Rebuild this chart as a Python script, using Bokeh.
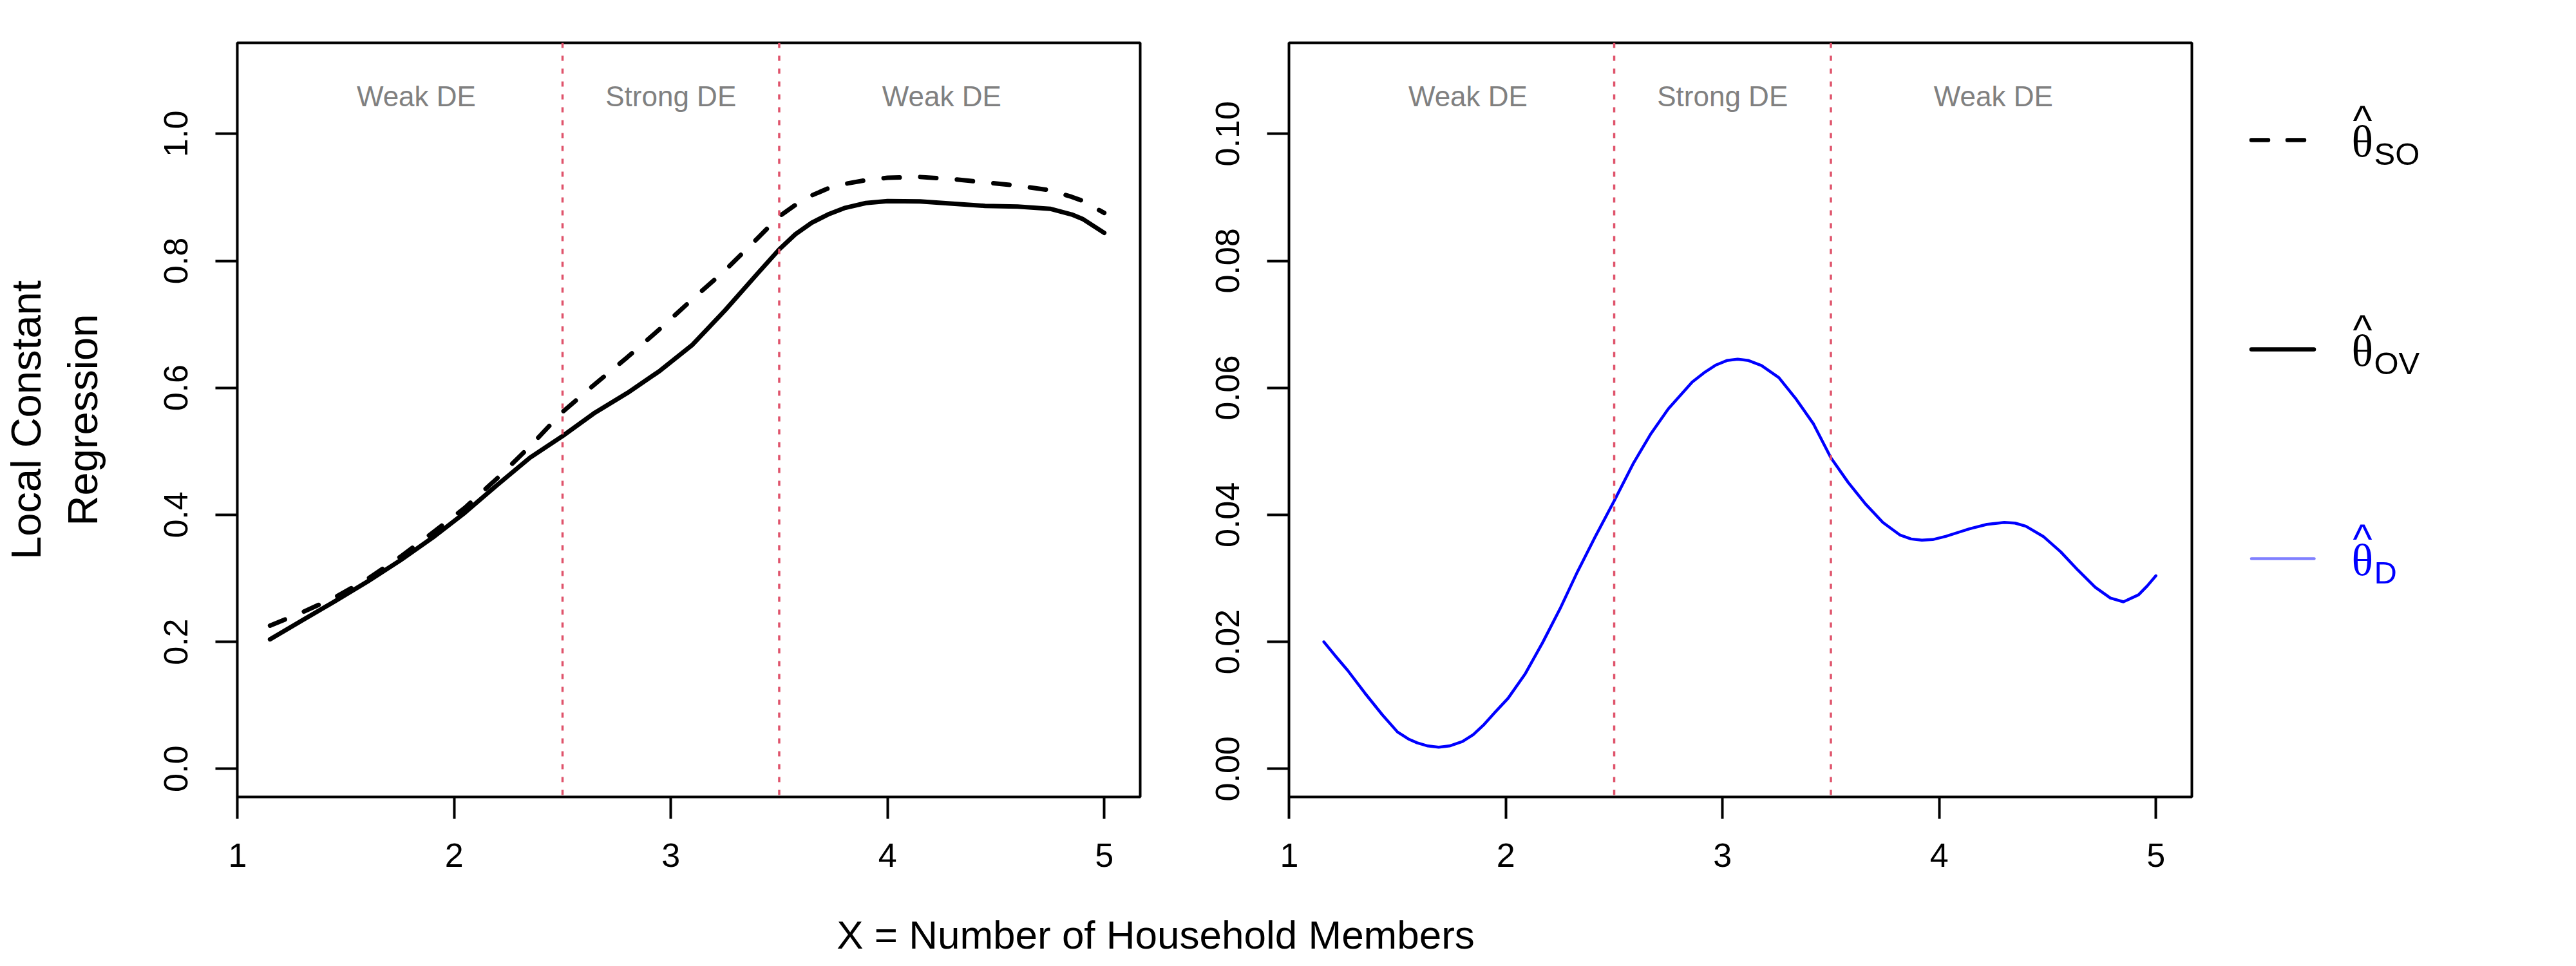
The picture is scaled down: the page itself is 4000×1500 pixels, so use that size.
from bokeh.plotting import figure
from bokeh.layouts import row, column
from bokeh.models import Range1d, FixedTicker, PrintfTickFormatter, Span
from bokeh.embed import file_html
from bokeh.resources import INLINE
from bokeh.core.properties import value

# ---------------- data ----------------
x_lc = [1.15, 1.3, 1.45, 1.6, 1.75, 1.9, 2.05, 2.2, 2.35, 2.5, 2.65, 2.8, 2.95, 3.1,
        3.25, 3.4, 3.5, 3.575, 3.65, 3.725, 3.8, 3.9, 4.0, 4.15, 4.3, 4.45, 4.6, 4.75,
        4.85, 4.9, 5.0]
theta_so = [0.2255, 0.2466, 0.270, 0.299, 0.3335, 0.3717, 0.4113, 0.458, 0.508, 0.562,
            0.606, 0.6484, 0.693, 0.7397, 0.7848, 0.8355, 0.870, 0.888, 0.903, 0.914,
            0.921, 0.927, 0.9308, 0.932, 0.9286, 0.9236, 0.9185, 0.911, 0.9007, 0.8945,
            0.8754]
theta_ov = [0.204, 0.234, 0.264, 0.295, 0.328, 0.364, 0.4035, 0.4475, 0.490, 0.524,
            0.561, 0.592, 0.627, 0.668, 0.722, 0.780, 0.818, 0.842, 0.860, 0.873,
            0.883, 0.891, 0.894, 0.8935, 0.890, 0.8865, 0.8855, 0.882, 0.873, 0.866,
            0.844]

x_d = [1.16, 1.22, 1.27, 1.35, 1.43, 1.5, 1.55, 1.59, 1.64, 1.69, 1.74, 1.8, 1.85, 1.9,
       1.95, 2.01, 2.09, 2.17, 2.25, 2.33, 2.41, 2.5, 2.59, 2.67, 2.75, 2.86, 2.92, 2.97,
       3.02, 3.07, 3.12, 3.18, 3.26, 3.34, 3.42, 3.5, 3.58, 3.66, 3.74, 3.82, 3.87, 3.92,
       3.97, 4.03, 4.14, 4.22, 4.3, 4.35, 4.4, 4.48, 4.56, 4.64, 4.72, 4.79, 4.85, 4.92,
       4.96, 5.0]
theta_d = [0.0200, 0.0175, 0.0155, 0.0119, 0.0085, 0.0058, 0.0047, 0.0041, 0.0036, 0.0034,
           0.0036, 0.0043, 0.0054, 0.0070, 0.0089, 0.0111, 0.0150, 0.0199, 0.0252, 0.0310,
           0.0364, 0.0422, 0.0482, 0.0528, 0.0567, 0.0609, 0.0625, 0.0636,
           0.0643, 0.0645, 0.0643, 0.0635, 0.0616, 0.0582, 0.0543, 0.0490, 0.0451, 0.0417,
           0.0388, 0.0368, 0.0362, 0.0360, 0.0361, 0.0366, 0.0378, 0.0385, 0.0388, 0.0387,
           0.0382, 0.0366, 0.0342, 0.0313, 0.0286, 0.0269, 0.0263, 0.0274, 0.0288, 0.0304]

de_bounds = [2.5, 3.5]
region_x = [1.825, 3.0, 4.25]
region_labels = ["Weak DE", "Strong DE", "Weak DE"]
x_ticks = [1, 2, 3, 4, 5]
y_ticks_left = [0.0, 0.2, 0.4, 0.6, 0.8, 1.0]
y_ticks_right = [0.00, 0.02, 0.04, 0.06, 0.08, 0.10]
legend_subscripts = ["SO", "OV", "D"]
x_title = "X = Number of Household Members"
y_title = "Local Constant\nRegression"

# ---------------- styling / layout ----------------
SANS = "Liberation Sans"
SERIF = "Liberation Serif"
RED = "#DF536B"
GRAY = "#808080"
BLUE = "#0000FF"
TOP = 66          # frame top (page px)
FRAME_H = 1171
BOTTOM = 164
ROW_H = TOP + FRAME_H + BOTTOM


def panel(ylo, yhi, yticks, fmt, left_border, right_border, region_y):
    p = figure(frame_width=1402, frame_height=FRAME_H, title=None,
               x_range=Range1d(0.999, 5.166), y_range=Range1d(ylo, yhi),
               output_backend="svg", toolbar_location=None,
               min_border_left=left_border, min_border_right=right_border,
               min_border_top=TOP, min_border_bottom=BOTTOM)
    p.grid.visible = False
    p.outline_line_color = "black"
    p.outline_line_width = 4
    p.outline_line_alpha = 1.0
    for ax in (p.xaxis[0], p.yaxis[0]):
        ax.axis_line_color = None
        ax.major_tick_out = 34
        ax.major_tick_in = 0
        ax.major_tick_line_width = 4
        ax.major_tick_line_color = "black"
        ax.minor_tick_line_color = None
        ax.major_label_text_font = SANS
        ax.major_label_text_font_size = "52px"
        ax.major_label_text_color = "black"
    p.xaxis.ticker = FixedTicker(ticks=x_ticks)
    p.xaxis.major_label_standoff = 38
    p.yaxis.ticker = FixedTicker(ticks=yticks)
    p.yaxis.formatter = PrintfTickFormatter(format=fmt)
    p.yaxis.major_label_orientation = "vertical"
    p.yaxis.major_label_standoff = 43
    for b in de_bounds:
        p.add_layout(Span(location=b, dimension="height", line_color=RED,
                          line_width=3.5, line_dash="8 12"))
    p.text(x=region_x, y=[region_y] * len(region_x), text=region_labels,
           text_font=value(SANS), text_font_size="44px", text_color=GRAY,
           text_align="center", text_baseline="middle")
    return p


p1 = panel(-0.0443, 1.1433, y_ticks_left, "%.1f", 361, 40, 1.059)
p1.yaxis.axis_label = y_title
p1.yaxis.axis_label_text_font = SANS
p1.yaxis.axis_label_text_font_size = "65px"
p1.yaxis.axis_label_text_font_style = "normal"
p1.yaxis.axis_label_text_color = "black"
p1.yaxis.axis_label_standoff = 88
p1.line(x_lc, theta_so, line_color="black", line_width=7, line_dash="25 32",
        line_cap="round", line_join="round")
p1.line(x_lc, theta_ov, line_color="black", line_width=7,
        line_cap="round", line_join="round")

p2 = panel(-0.00443, 0.11433, y_ticks_right, "%.2f", 191, 20, 0.1059)
p2.line(x_d, theta_d, line_color=BLUE, line_width=4.5,
        line_cap="round", line_join="round")

# ---------------- legend panel (page-pixel coordinates) ----------------
LEG_LEFT = 361 + 1402 + 40 + 191 + 1402 + 20
LEG_W = 3990 - LEG_LEFT
p3 = figure(frame_width=LEG_W, frame_height=FRAME_H, title=None,
            x_range=Range1d(LEG_LEFT, LEG_LEFT + LEG_W),
            y_range=Range1d(TOP + FRAME_H, TOP),
            output_backend="svg", toolbar_location=None,
            min_border_left=0, min_border_right=0,
            min_border_top=TOP, min_border_bottom=BOTTOM,
            x_axis_location=None, y_axis_location=None)
p3.grid.visible = False
p3.outline_line_color = None

leg_y = [217, 542, 867]
leg_line_end = [3571, 3585.5, 3586]
leg_line_color = ["black", "black", "#8080FF"]
leg_line_width = [6.5, 6.5, 4.5]
leg_line_dash = ["26 30", "solid", "solid"]
leg_text_color = ["black", "black", BLUE]
for i, sub in enumerate(legend_subscripts):
    ly = leg_y[i]
    p3.segment(x0=[3488.5], y0=[ly], x1=[leg_line_end[i]], y1=[ly],
               line_color=leg_line_color[i], line_width=leg_line_width[i],
               line_dash=leg_line_dash[i], line_cap="round")
    p3.text(x=[3644], y=[ly + 2], text=["θ"], text_font=value(SERIF),
            text_font_size="70px", text_color=leg_text_color[i],
            text_align="left", text_baseline="middle")
    p3.text(x=[3661], y=[ly - 31], text=["^"], text_font=value(SANS),
            text_font_size="64px", text_color=leg_text_color[i],
            text_align="center", text_baseline="middle")
    p3.text(x=[3679], y=[ly + 21], text=[sub], text_font=value(SANS),
            text_font_size="49px", text_color=leg_text_color[i],
            text_align="left", text_baseline="middle")

# ---------------- shared x title ----------------
T_LEFT = 361
T_H = 1495 - ROW_H
p4 = figure(frame_width=3990 - T_LEFT, frame_height=T_H, title=None,
            x_range=Range1d(T_LEFT, 3990), y_range=Range1d(ROW_H + T_H, ROW_H),
            output_backend="svg", toolbar_location=None,
            min_border_left=T_LEFT, min_border_right=0,
            min_border_top=0, min_border_bottom=0,
            x_axis_location=None, y_axis_location=None)
p4.grid.visible = False
p4.outline_line_color = None
p4.text(x=[1794], y=[1451], text=[x_title], text_font=value(SANS),
        text_font_size="62px", text_color="black",
        text_align="center", text_baseline="middle")

layout = column(row(p1, p2, p3), p4)
open("out.html", "w").write(file_html(layout, INLINE))
